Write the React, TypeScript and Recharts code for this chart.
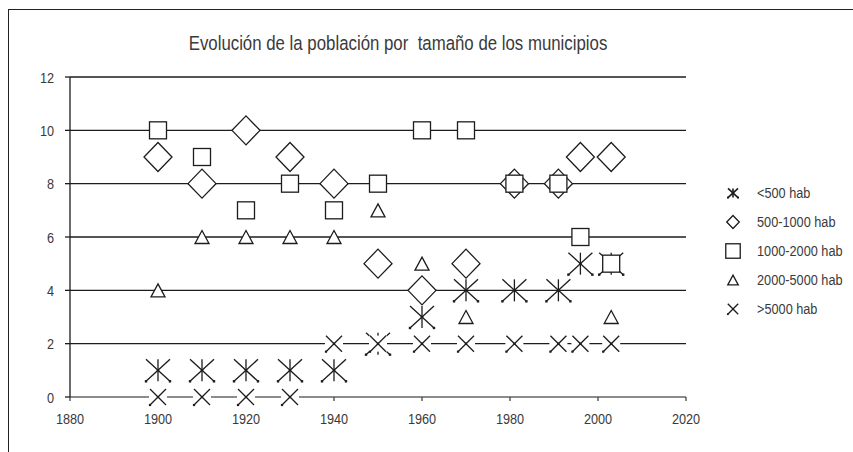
import { CartesianGrid, Scatter, ScatterChart, XAxis, YAxis } from "recharts";

const years = [1900, 1910, 1920, 1930, 1940, 1950, 1960, 1970, 1981, 1991, 1996, 2003];
const below500 = [1, 1, 1, 1, 1, 2, 3, 4, 4, 4, 5, 5];
const from500to1000 = [9, 8, 10, 9, 8, 5, 4, 5, 8, 8, 9, 9];
const from1000to2000 = [10, 9, 7, 8, 7, 8, 10, 10, 8, 8, 6, 5];
const from2000to5000 = [4, 6, 6, 6, 6, 7, 5, 3, null, null, null, 3];
const above5000 = [0, 0, 0, 0, 2, 2, 2, 2, 2, 2, 2, 2];

const xTicks = [1880, 1900, 1920, 1940, 1960, 1980, 2000, 2020];
const yTicks = [0, 2, 4, 6, 8, 10, 12];

// no narrow font installed, so Liberation Sans gets squeezed to Arial Narrow proportions
const font = "'Liberation Sans', Arial, sans-serif";
const squeeze = 0.82;
const ink = "#1c1c1c";
const textColor = "#3a3a3a";
const plotBottom = 397;

type Kind = "star" | "diamond" | "square" | "triangle" | "cross";

const series: { name: string; kind: Kind; values: (number | null)[] }[] = [
  { name: "<500 hab", kind: "star", values: below500 },
  { name: "500-1000 hab", kind: "diamond", values: from500to1000 },
  { name: "1000-2000 hab", kind: "square", values: from1000to2000 },
  { name: "2000-5000 hab", kind: "triangle", values: from2000to5000 },
  { name: ">5000 hab", kind: "cross", values: above5000 },
];

function toPoints(values: (number | null)[]) {
  return years
    .map((year, i) => ({ year, value: values[i] }))
    .filter((p) => p.value !== null);
}

// s = scale: 1 for the plot, smaller for the legend
function Marker({ kind, x, y, s = 1 }: { kind: Kind; x: number; y: number; s?: number }) {
  const sw = 1.3;
  if (kind === "star") {
    const w = 12 * s;
    const h = 11 * s;
    const d = 1.2 * Math.max(s, 0.8);
    return (
      <g stroke={ink} strokeWidth={s < 1 ? 1.6 : sw} fill={ink}>
        <line x1={x - w} y1={y - h} x2={x + w} y2={y + h} />
        <line x1={x - w} y1={y + h} x2={x + w} y2={y - h} />
        <line x1={x} y1={y - h} x2={x} y2={y + h} />
        <rect x={x - d} y={y - d} width={d * 2} height={d * 2} stroke="none" />
        <rect x={x - w - d} y={y + h - d} width={d * 2} height={d * 2} stroke="none" />
        <rect x={x + w - d} y={y + h - d} width={d * 2} height={d * 2} stroke="none" />
      </g>
    );
  }
  if (kind === "diamond") {
    const w = 14 * s;
    const h = 14.5 * s;
    return (
      <polygon
        points={`${x},${y - h} ${x + w},${y} ${x},${y + h} ${x - w},${y}`}
        fill="#fff"
        stroke={ink}
        strokeWidth={sw}
      />
    );
  }
  if (kind === "square") {
    const w = 8.5 * s;
    const h = 8.5 * s;
    return (
      <rect x={x - w} y={y - h} width={w * 2} height={h * 2} fill="#fff" stroke={ink} strokeWidth={sw} />
    );
  }
  if (kind === "triangle") {
    const w = 7 * s;
    const h = 6.5 * s;
    return (
      <polygon
        points={`${x},${y - h} ${x + w},${y + h} ${x - w},${y + h}`}
        fill="#fff"
        stroke={ink}
        strokeWidth={sw}
      />
    );
  }
  const w = 8 * s;
  const d = 1.1 * Math.max(s, 0.8);
  return (
    <g stroke={ink} strokeWidth={sw}>
      <rect x={x - w - 1} y={y - w} width={w * 2 + 2} height={w * 2} fill="#fff" stroke="none" />
      <line x1={x - w} y1={y - w} x2={x + w} y2={y + w} />
      <line x1={x - w} y1={y + w} x2={x + w} y2={y - w} />
      <rect x={x - d} y={y - d} width={d * 2} height={d * 2} fill={ink} stroke="none" />
      <rect x={x - w - d} y={y + w - d} width={d * 2} height={d * 2} fill={ink} stroke="none" />
    </g>
  );
}

const legendScale: Record<Kind, number> = {
  star: 0.42,
  diamond: 0.45,
  square: 0.85,
  triangle: 0.75,
  cross: 0.65,
};

function XTick({ x, y, payload }: any) {
  return (
    <text
      transform={`translate(${x},${y}) scale(${squeeze},1)`}
      textAnchor="middle"
      dy="0.71em"
      fill={textColor}
      fontSize={15.5}
      fontFamily={font}
    >
      {payload.value}
    </text>
  );
}

function YTick({ x, y, payload }: any) {
  return (
    <text
      transform={`translate(${x},${y}) scale(${squeeze},1)`}
      textAnchor="end"
      dy="0.355em"
      fill={textColor}
      fontSize={15.5}
      fontFamily={font}
    >
      {payload.value}
    </text>
  );
}

// grid line at 0 doubles as the (grey) x axis, so the markers can sit on top of it
function GridLine(props: any) {
  const isBase = props.y1 > plotBottom - 1;
  return (
    <line
      x1={props.x1}
      x2={props.x2}
      y1={props.y1}
      y2={props.y2}
      stroke={isBase ? "#666" : ink}
      strokeWidth={isBase ? 1.6 : 1.3}
    />
  );
}

function LegendList() {
  return (
    <div
      style={{
        position: "absolute",
        left: 721,
        top: 178,
        fontFamily: font,
        fontSize: 15.5,
        color: textColor,
        whiteSpace: "nowrap",
      }}
    >
      {series.map((item) => (
        <div key={item.name} style={{ display: "flex", alignItems: "center", height: 29 }}>
          <svg width={24} height={22}>
            <Marker kind={item.kind} x={12} y={11} s={legendScale[item.kind]} />
          </svg>
          <span
            style={{
              marginLeft: 12,
              display: "inline-block",
              transform: `scaleX(${squeeze})`,
              transformOrigin: "left center",
            }}
          >
            {item.name}
          </span>
        </div>
      ))}
    </div>
  );
}

export default function App() {
  return (
    <div
      style={{
        position: "absolute",
        left: 0,
        top: 0,
        width: 853,
        height: 452,
        overflow: "hidden",
        background: "#fff",
      }}
    >
      <div
        style={{
          position: "absolute",
          left: 8,
          top: 9,
          width: 900,
          height: 500,
          borderTop: "1px solid #222",
          borderLeft: "1px solid #222",
        }}
      />
      <div
        style={{
          position: "absolute",
          left: 0,
          top: 31,
          width: 796,
          textAlign: "center",
          fontFamily: font,
          fontSize: 20.5,
          lineHeight: "24px",
          color: textColor,
          whiteSpace: "pre",
          transform: `scaleX(${squeeze})`,
          transformOrigin: "398px center",
        }}
      >
        Evolución de la población por  tamaño de los municipios
      </div>
      <div style={{ position: "absolute", left: 0, top: 0 }}>
        <ScatterChart width={853} height={452} margin={{ top: 77, right: 167, bottom: 25, left: 30 }}>
          <CartesianGrid vertical={false} horizontal={(p: any) => <GridLine {...p} />} />
          <XAxis
            type="number"
            dataKey="year"
            domain={[1880, 2020]}
            ticks={xTicks}
            height={30}
            axisLine={false}
            tickLine={{ stroke: "#444", strokeWidth: 1.3 }}
            tickSize={4}
            tickMargin={12}
            tick={<XTick />}
          />
          <YAxis
            type="number"
            dataKey="value"
            domain={[0, 12]}
            ticks={yTicks}
            width={40}
            stroke={ink}
            strokeWidth={1.3}
            tickSize={5}
            tickMargin={11}
            tick={<YTick />}
          />
          {series.map((item) => (
            <Scatter
              key={item.name}
              name={item.name}
              data={toPoints(item.values)}
              isAnimationActive={false}
              shape={(p: any) => <Marker kind={item.kind} x={p.cx} y={p.cy} />}
            />
          ))}
        </ScatterChart>
      </div>
      <LegendList />
    </div>
  );
}
